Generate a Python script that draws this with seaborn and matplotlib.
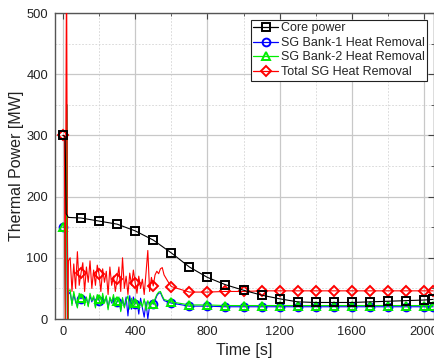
import numpy as np
import pandas as pd
import matplotlib
matplotlib.use("Agg")
import matplotlib.pyplot as plt
from matplotlib.lines import Line2D
from matplotlib.ticker import MultipleLocator
import seaborn as sns

# ---------------- data ----------------
core_t = [0, 12, 18, 30, 100, 200, 300, 400, 500, 600, 700, 800, 900, 1000,
          1100, 1200, 1300, 1400, 1500, 1600, 1700, 1800, 1900, 2000, 2050]
core_p = [300, 298, 172, 166, 165, 160, 155, 144, 129, 108, 85, 68, 56, 47,
          39, 33, 28, 27, 27, 27, 28, 29, 30, 31, 32]

spike_t_total = [0, 8, 12, 20, 26]
spike_total = [300, 300, 0, 600, 0]
spike_t_bank = [0, 10, 15, 22, 27]
spike_bank1 = [150, 150, 0, 350, 0]
spike_bank2 = [150, 150, 0, 350, 0]

noise_t = np.arange(30, 561, 10)
total_noise = [95, 100, 45, 90, 50, 110, 55, 75, 92, 45,
               85, 60, 95, 50, 80, 55, 88, 73, 45, 82,
               60, 78, 40, 85, 55, 70, 45, 65, 85, 45,
               100, 50, 70, 40, 75, 55, 80, 59, 42, 70,
               50, 65, 40, 75, 112, 45, 68, 54, 72, 78,
               74, 82, 84, 72]
bank2_noise = [45, 48, 22, 45, 30, 18, 42, 35, 40, 22,
               36, 20, 42, 30, 38, 18, 40, 32, 22, 42,
               26, 38, 15, 36, 28, 40, 20, 30, 36, 12,
               35, 18, 30, 38, 16, 34, 20, 26, 30, 16,
               28, 20, 33, 14, 30, 22, 28, 25, 33, 40,
               44, 45, 38, 32]
bank1_noise = [40, 44, 25, 40, 28, 20, 38, 33, 38, 26,
               34, 22, 38, 28, 36, 20, 38, 30, 24, 38,
               28, 36, 18, 34, 26, 36, 22, 28, 34, 14,
               32, 20, 36, 5, 38, 16, 36, 25, 30, 8,
               34, 18, 3, 28, 0, 22, 30, 24, 30, 38,
               42, 43, 36, 30]

tail_t = [580, 600, 700, 800, 900, 1000, 1100, 1200, 1300, 1400, 1500,
          1600, 1700, 1800, 1900, 2000, 2050]
total_tail = [62, 53, 44, 44, 45, 45, 46, 46, 46, 46, 46, 46, 46, 46, 46, 46, 46]
bank2_tail = [30, 28, 23, 23, 22, 22, 22, 22, 22, 22, 22, 22, 22, 22, 22, 22, 22]
bank1_tail = [28, 26, 21, 21, 20, 20, 20, 20, 20, 20, 20, 20, 20, 20, 20, 20, 20]

marker_t = list(range(0, 2001, 100)) + [2050]

labels = ["Core power", "SG Bank-1 Heat Removal", "SG Bank-2 Heat Removal",
          "Total SG Heat Removal"]
colors = ["#000000", "#0000ff", "#00ee00", "#ff0000"]
markers = ["s", "o", "^", "D"]
msizes = [6.0, 5.6, 6.0, 5.4]

# ---------------- figure ----------------
sns.set_style("white")
plt.rcParams["font.family"] = ["Liberation Sans", "DejaVu Sans"]

fig = plt.figure(figsize=(4.35, 3.64), dpi=100)
ax = fig.add_axes([55 / 435, 1 - 319 / 364, (434 - 55) / 435, (319 - 13) / 364])


def draw(t, v, color, marker, ms, z):
    df = pd.DataFrame({"t": np.asarray(t, dtype=float), "v": np.asarray(v, dtype=float)})
    idx = [int(i) for i in np.flatnonzero(np.isin(df["t"].values, marker_t))]
    sns.lineplot(data=df, x="t", y="v", ax=ax, sort=False, estimator=None,
                 color=color, lw=0.8, marker=marker, markersize=ms,
                 markerfacecolor="none", markeredgecolor=color,
                 markeredgewidth=1.4, markevery=idx, zorder=z, legend=False)


draw(list(spike_t_bank) + list(noise_t) + tail_t,
     spike_bank1 + bank1_noise + bank1_tail, colors[1], markers[1], msizes[1], 3)
draw(list(spike_t_bank) + list(noise_t) + tail_t,
     spike_bank2 + bank2_noise + bank2_tail, colors[2], markers[2], msizes[2], 4)
draw(list(spike_t_total) + list(noise_t) + tail_t,
     spike_total + total_noise + total_tail, colors[3], markers[3], msizes[3], 5)
draw(core_t, core_p, colors[0], markers[0], msizes[0], 6)

ax.set_xlim(-44, 2055)
ax.set_ylim(0, 500)
ax.xaxis.set_major_locator(MultipleLocator(400))
ax.xaxis.set_minor_locator(MultipleLocator(200))
ax.yaxis.set_major_locator(MultipleLocator(100))
ax.yaxis.set_minor_locator(MultipleLocator(50))

ax.set_axisbelow(True)
ax.grid(which="major", color="#c8c8c8", lw=0.9, ls="-")
ax.grid(which="minor", color="#d4d4d4", lw=0.6, ls=(0, (2, 2)))

for s in ax.spines.values():
    s.set_color("#555555")
    s.set_linewidth(1.0)

ax.tick_params(which="both", direction="in", top=True, right=True,
               colors="#444444", labelcolor="#222222", labelsize=9.3, pad=5)
ax.tick_params(which="major", length=4, width=0.8)
ax.tick_params(which="minor", length=2.5, width=0.6)

ax.set_xlabel("Time [s]", fontsize=11.5, labelpad=4, color="#222222")
ax.set_ylabel("Thermal Power [MW]", fontsize=11.5, labelpad=2, color="#222222")

handles = [Line2D([], [], color=c, marker=m, markersize=ms, markerfacecolor="none",
                  markeredgecolor=c, markeredgewidth=1.4, lw=0.9)
           for c, m, ms in zip(colors, markers, msizes)]
leg = ax.legend(handles, labels, loc="upper right",
                bbox_to_anchor=(427 / 435, 1 - 20 / 364), bbox_transform=fig.transFigure,
                borderaxespad=0, fontsize=9, frameon=True, fancybox=False,
                framealpha=1, edgecolor="#222222", handlelength=2.0,
                handletextpad=0.2, borderpad=0.2, labelspacing=0.2)
leg.get_frame().set_linewidth(0.8)

fig.savefig("out.png", dpi=100)
